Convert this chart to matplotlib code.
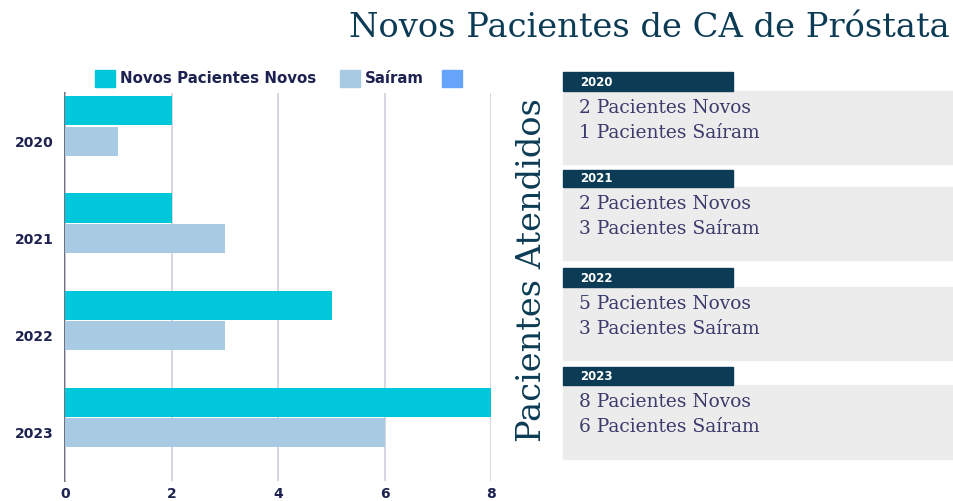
import matplotlib
matplotlib.use("Agg")
import matplotlib.pyplot as plt
from matplotlib.patches import Rectangle
import numpy as np

years = ["2020", "2021", "2022", "2023"]
novos = [2, 2, 5, 8]
sairam = [1, 3, 3, 6]
terceira = [0, 0, 0, 0]
xticks = [0, 2, 4, 6, 8]
legend_labels = ["Novos Pacientes Novos", "Saíram", ""]
title = "Novos Pacientes de CA de Próstata"
side_title = "Pacientes Atendidos"

W, H = 954, 501
fig = plt.figure(figsize=(W / 100, H / 100), dpi=100)
fig.patch.set_facecolor("white")

def fx(px):
    return px / W

def fy(py):
    return 1 - py / H

C_CYAN = "#00c8da"
C_LIGHT = "#a9cae3"
C_BLUE = "#66a3fb"
C_NAVY = "#1d2250"
C_DARK = "#0c3c55"
C_TEXT = "#3a3a6c"
SANS = "DejaVu Sans"
SERIF = "DejaVu Serif"

ax = fig.add_axes([fx(65), fy(481.3), fx(491.5) - fx(65), fy(92.5) - fy(481.3)])
ax.set_facecolor("none")
y = np.arange(len(years))
h = 0.30
step = 0.312
ax.barh(y - step, novos, height=h, color=C_CYAN, zorder=3)
ax.barh(y, sairam, height=h, color=C_LIGHT, zorder=3)
ax.barh(y + step, terceira, height=h, color=C_BLUE, zorder=3)
ax.set_xlim(0, 8)
ax.set_ylim(3.5, -0.5)
ax.set_xticks(xticks)
ax.set_xticklabels([str(v) for v in xticks], fontweight="bold", fontsize=10,
                   color=C_NAVY, family=SANS)
ax.set_yticks(y)
ax.set_yticklabels(years, fontweight="bold", fontsize=10, color=C_NAVY,
                   family=SANS)
ax.tick_params(axis="both", length=0)
ax.tick_params(axis="x", pad=4)
ax.tick_params(axis="y", pad=8)
for s in ["top", "right", "bottom"]:
    ax.spines[s].set_visible(False)
ax.spines["left"].set_color("#55556a")
ax.spines["left"].set_linewidth(1.2)
ax.spines["left"].set_zorder(1)
ax.grid(axis="x", color="#d0d0dc", linewidth=1.2, zorder=0)
ax.grid(axis="y", visible=False)

# legend
leg_items = [(95, C_CYAN, legend_labels[0]), (340, C_LIGHT, legend_labels[1]), (442, C_BLUE, legend_labels[2])]
for x0, c, lab in leg_items:
    fig.patches.append(Rectangle((fx(x0), fy(87)), fx(20), fy(70) - fy(87),
                                 transform=fig.transFigure, color=c))
    if lab:
        fig.text(fx(x0 + 25), fy(78.5), lab, fontsize=10.8, fontweight="bold",
                 color=C_NAVY, va="center", ha="left", family=SANS)

# title
fig.text(fx(950), fy(28), title, fontsize=24.3, color=C_DARK, ha="right",
         va="center", family=SERIF)

# side title
fig.text(fx(532), fy(270), side_title, fontsize=24.2, color=C_DARK, rotation=90,
         ha="center", va="center", family=SERIF)

# cards
cards = [(72, 91, 163.5), (170, 187, 260), (268, 287, 360), (367, 385, 459)]
for i, (ht, bt, bb) in enumerate(cards):
    fig.patches.append(Rectangle((fx(563), fy(bb)), fx(960) - fx(563), fy(bt) - fy(bb),
                                 transform=fig.transFigure, color="#ececec", zorder=0))
    fig.patches.append(Rectangle((fx(563), fy(bt)), fx(733) - fx(563), fy(ht) - fy(bt),
                                 transform=fig.transFigure, color=C_DARK, zorder=1))
    fig.text(fx(580), fy((ht + bt) / 2 + 0.5), years[i], fontsize=8.5, fontweight="bold",
             color="white", va="center", ha="left", family=SANS)
    fig.text(fx(579), fy(bt + 17), f"{novos[i]} Pacientes Novos", fontsize=13.4,
             color=C_TEXT, va="center", ha="left", family=SERIF)
    fig.text(fx(579), fy(bt + 42), f"{sairam[i]} Pacientes Saíram", fontsize=13.4,
             color=C_TEXT, va="center", ha="left", family=SERIF)

fig.savefig("out.png", dpi=100)
